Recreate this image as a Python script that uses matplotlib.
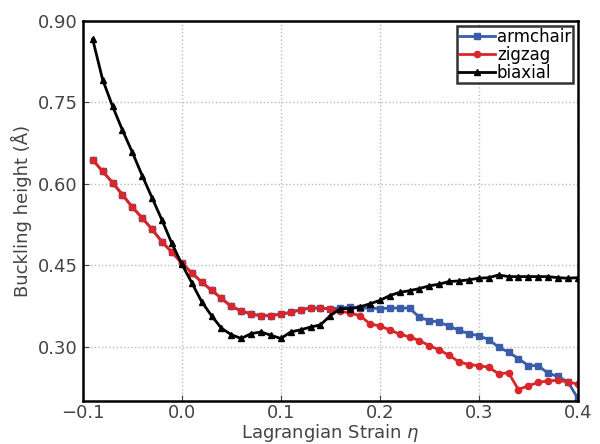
import numpy as np
import matplotlib
matplotlib.use("Agg")
import matplotlib.pyplot as plt
from matplotlib.ticker import FormatStrFormatter

# strain values (step 0.01)
eta = np.round(np.arange(-0.09, 0.401, 0.01), 2)

zigzag = [0.644, 0.623, 0.602, 0.580, 0.557, 0.537, 0.516, 0.493, 0.474,
          0.454, 0.436, 0.419, 0.404, 0.389, 0.374, 0.366, 0.360, 0.357, 0.357,
          0.360, 0.363, 0.368, 0.371, 0.371, 0.370, 0.365, 0.362, 0.357, 0.342,
          0.338, 0.331, 0.323, 0.318, 0.311, 0.302, 0.294, 0.284, 0.272, 0.267,
          0.265, 0.262, 0.250, 0.252, 0.221, 0.228, 0.234, 0.237, 0.238, 0.235,
          0.231]

# armchair lies under zigzag up to eta = 0.14
armchair = zigzag[:24] + [0.370, 0.371, 0.373, 0.371, 0.371, 0.370, 0.371,
                          0.371, 0.371, 0.354, 0.348, 0.345, 0.338, 0.330,
                          0.324, 0.320, 0.313, 0.299, 0.290, 0.278, 0.265,
                          0.265, 0.251, 0.245, 0.235, 0.205]

biaxial = [0.866, 0.792, 0.743, 0.699, 0.658, 0.615, 0.574, 0.533, 0.490,
           0.452, 0.418, 0.383, 0.357, 0.334, 0.322, 0.315, 0.324, 0.327, 0.321,
           0.315, 0.327, 0.331, 0.336, 0.340, 0.357, 0.370, 0.370, 0.373, 0.379,
           0.385, 0.394, 0.400, 0.403, 0.407, 0.412, 0.415, 0.420, 0.421, 0.423,
           0.426, 0.427, 0.432, 0.429, 0.429, 0.429, 0.429, 0.429, 0.427, 0.426,
           0.427]

plt.rcParams['xtick.direction'] = 'in'
plt.rcParams['ytick.direction'] = 'in'
plt.rcParams['font.size'] = 13

fig = plt.figure(figsize=(6, 4.44), dpi=100)
ax = fig.add_axes([0.138, 0.097, 0.825, 0.856])

ax.plot(eta, armchair, color='#3b5ca8', marker='s', markersize=4.5, lw=2, label='armchair')
ax.plot(eta, zigzag, color='#d9262b', marker='o', markersize=4.5, lw=2, label='zigzag')
ax.plot(eta, biaxial, color='black', marker='^', markersize=4, lw=2, label='biaxial')

ax.set_xlim(-0.1, 0.4)
ax.set_ylim(0.2, 0.9)
ax.set_xticks([-0.1, 0.0, 0.1, 0.2, 0.3, 0.4])
ax.set_yticks([0.30, 0.45, 0.60, 0.75, 0.90])
ax.yaxis.set_major_formatter(FormatStrFormatter('%.2f'))
ax.set_xticklabels(['\u22120.1', '0.0', '0.1', '0.2', '0.3', '0.4'])
ax.tick_params(colors='#444444', labelcolor='#444444', length=4)
ax.tick_params(axis='x', pad=2)
ax.grid(True, linestyle=':', color='#bbbbbb', lw=1)
for s in ax.spines.values():
    s.set_linewidth(1.8)

ax.set_xlabel('Lagrangian Strain $\\eta$', color='#444444', labelpad=0)
ax.set_ylabel('Buckling height (\u00c5)', color='#444444')

leg = ax.legend(loc='upper right', fontsize=12, borderpad=0.1, labelspacing=0.0,
                handlelength=2.2, handletextpad=0.1, borderaxespad=0.3, fancybox=False)
leg.get_frame().set_edgecolor('black')
leg.get_frame().set_linewidth(1.8)

fig.savefig('out.png', dpi=100)
